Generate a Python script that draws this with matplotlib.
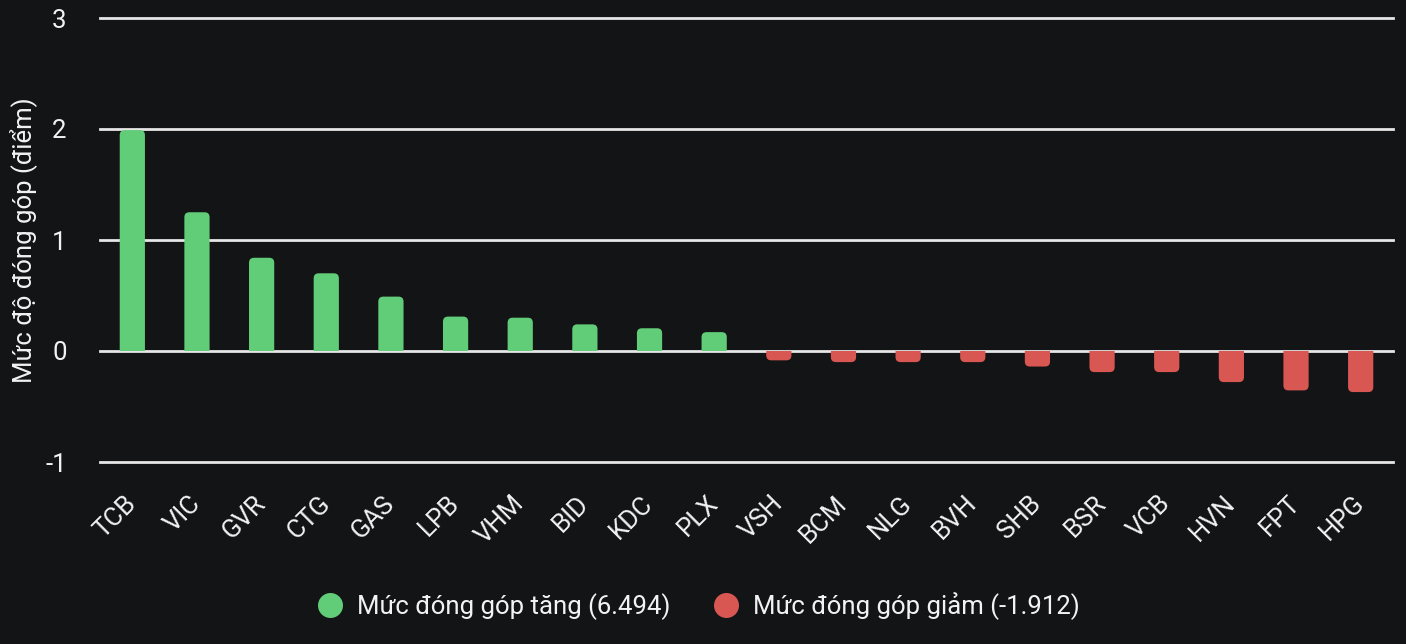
import matplotlib
matplotlib.use("Agg")
import matplotlib.pyplot as plt
from matplotlib.patches import FancyBboxPatch, Rectangle
from matplotlib.lines import Line2D

tickers = ["TCB", "VIC", "GVR", "CTG", "GAS", "LPB", "VHM", "BID", "KDC", "PLX",
           "VSH", "BCM", "NLG", "BVH", "SHB", "BSR", "VCB", "HVN", "FPT", "HPG"]
values = [1.99, 1.25, 0.84, 0.70, 0.49, 0.31, 0.30, 0.24, 0.205, 0.17,
          -0.084, -0.10, -0.10, -0.10, -0.14, -0.19, -0.19, -0.28, -0.355, -0.37]
yticks = [-1, 0, 1, 2, 3]
legend_labels = ["Mức đóng góp tăng (6.494)", "Mức đóng góp giảm (-1.912)"]
ylabel = "Mức độ đóng góp (điểm)"

BG = "#131416"
GREEN = "#62cd78"
RED = "#d95752"
TXT = "#f2f2f2"
GRID = "#e6e6e6"
FS = 18.5

plt.rcParams['font.family'] = ['Roboto', 'DejaVu Sans']

fig = plt.figure(figsize=(14.06, 6.44), dpi=100, facecolor=BG)
ax = fig.add_axes([100/1406, 1-462/644, 1293/1406, 444/644])
ax.set_facecolor(BG)

x = list(range(len(tickers)))
colors = [GREEN if v >= 0 else RED for v in values]
bars = ax.bar(x, values, width=0.39, color=colors, zorder=3, linewidth=0)

ax.set_xlim(-0.5, len(tickers) - 0.5)
ax.set_ylim(-1, 3)

# rounded outer ends, square base (rounded box extended past baseline and clipped)
fig.canvas.draw()
xpp = (ax.get_xlim()[1] - ax.get_xlim()[0]) / ax.bbox.width
ypp = (ax.get_ylim()[1] - ax.get_ylim()[0]) / ax.bbox.height
aspect = ypp / xpp
r = 5 * xpp
ext = 8 * ypp
for b, c in zip(bars, colors):
    bx, by, bw, bh = b.get_x(), b.get_y(), b.get_width(), b.get_height()
    b.set_visible(False)
    if bh >= 0:
        y0, hh = by - ext, bh + ext
        clip = Rectangle((bx - bw, by), 3 * bw, 5, transform=ax.transData)
    else:
        y0, hh = by + bh, -bh + ext
        clip = Rectangle((bx - bw, by - 5), 3 * bw, 5, transform=ax.transData)
    rr = min(r, abs(bh) / aspect / 2 + r * 0.3, bw / 2)
    p = FancyBboxPatch((bx, y0), bw, hh, boxstyle=f"round,pad=0,rounding_size={rr}",
                       mutation_aspect=aspect, facecolor=c, linewidth=0, zorder=3)
    ax.add_patch(p)
    p.set_clip_path(clip)

ax.set_yticks(yticks)
ax.set_yticklabels([str(t) for t in yticks])
ax.set_xticks(x)
ax.set_xticklabels(tickers, rotation=45, ha="right", va="center", rotation_mode="anchor")
ax.tick_params(axis="x", length=0, pad=27, labelsize=FS, labelcolor=TXT)
ax.tick_params(axis="y", length=0, pad=24, labelsize=FS, labelcolor=TXT)
for lab in ax.get_yticklabels():
    lab.set_horizontalalignment("right")

ax.yaxis.grid(True, color=GRID, linewidth=2, zorder=4)
for gl in ax.get_ygridlines():
    gl.set_clip_on(False)
ax.set_axisbelow(False)
for s in ax.spines.values():
    s.set_visible(False)

ax.set_ylabel(ylabel, color=TXT, fontsize=FS, labelpad=6)

handles = [Line2D([], [], marker="o", linestyle="none", markersize=18,
                  markerfacecolor=GREEN, markeredgewidth=0),
           Line2D([], [], marker="o", linestyle="none", markersize=18,
                  markerfacecolor=RED, markeredgewidth=0)]
fig.legend(handles, legend_labels, loc="center", bbox_to_anchor=(697/1406, 1-606/644),
           ncol=2, frameon=False, fontsize=FS, labelcolor=TXT, handletextpad=0.45,
           columnspacing=1.57, handlelength=1.2)

fig.savefig("out.png", dpi=100, facecolor=BG)
